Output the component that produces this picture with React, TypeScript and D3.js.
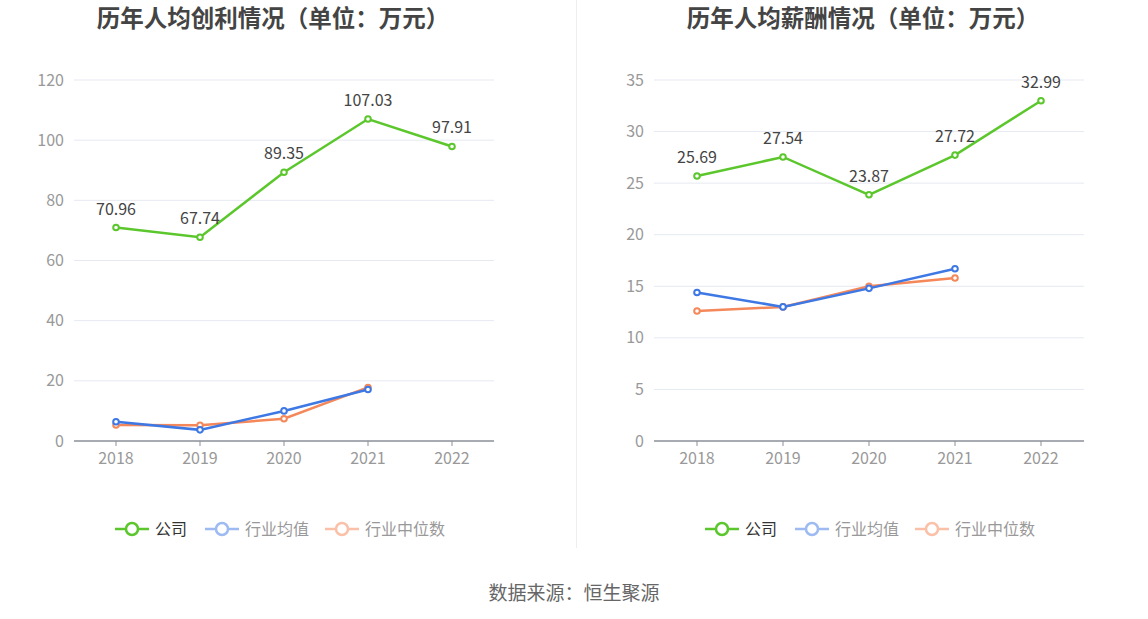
import React from "react";
import * as d3 from "d3";

const years = ["2018", "2019", "2020", "2021", "2022"];

const profitCompany = [70.96, 67.74, 89.35, 107.03, 97.91];
const profitIndustryAvg = [6.4, 3.7, 10.0, 17.1];
const profitIndustryMedian = [5.3, 5.2, 7.4, 17.8];
const profitTicks = [0, 20, 40, 60, 80, 100, 120];

const salaryCompany = [25.69, 27.54, 23.87, 27.72, 32.99];
const salaryIndustryAvg = [14.4, 13.0, 14.8, 16.7];
const salaryIndustryMedian = [12.6, 13.0, 15.0, 15.8];
const salaryTicks = [0, 5, 10, 15, 20, 25, 30, 35];

const seriesNames = ["公司", "行业均值", "行业中位数"];

const GREEN = "#5BC72C";
const BLUE = "#3E78E4";
const ORANGE = "#F5885A";
const BLUE_FADE = "#9DBAF2";
const ORANGE_FADE = "#FBC0A8";
const FONT = "'Noto Sans CJK SC', 'Noto Sans', sans-serif";

type PanelProps = {
  x0: number;
  x1: number;
  titleX: number;
  legendX: number;
  title: string;
  company: number[];
  avg: number[];
  median: number[];
  ticks: number[];
};

function Panel({ x0, x1, titleX, legendX, title, company, avg, median, ticks }: PanelProps) {
  const top = 80;
  const bottom = 441;
  const x = d3.scaleBand<string>().domain(years).range([x0, x1]);
  const y = d3
    .scaleLinear()
    .domain([0, ticks[ticks.length - 1]])
    .range([bottom, top]);
  const cx = (i: number) => (x(years[i]) as number) + x.bandwidth() / 2;
  const line = d3
    .line<number>()
    .x((_, i) => cx(i))
    .y((d) => y(d));
  const legendItems = [
    { name: seriesNames[0], color: GREEN, text: "#333", off: 0 },
    { name: seriesNames[1], color: BLUE_FADE, text: "#999", off: 90 },
    { name: seriesNames[2], color: ORANGE_FADE, text: "#999", off: 210 },
  ];
  const series = [
    { data: median, color: ORANGE },
    { data: avg, color: BLUE },
    { data: company, color: GREEN },
  ];
  return (
    <g>
      <text
        x={titleX}
        y={27}
        textAnchor="middle"
        fontSize={23.5}
        fontWeight="bold"
        fill="#444"
        fontFamily={FONT}
      >
        {title}
      </text>
      {ticks.map((t) => (
        <g key={t}>
          {t !== 0 && (
            <line x1={x0} x2={x1} y1={y(t)} y2={y(t)} stroke="#E6E9F2" strokeWidth={1} />
          )}
          <text
            x={x0 - 10}
            y={y(t)}
            dy="0.35em"
            textAnchor="end"
            fontSize={16}
            fill="#999"
            fontFamily={FONT}
          >
            {t}
          </text>
        </g>
      ))}
      <line x1={x0} x2={x1} y1={bottom} y2={bottom} stroke="#8C8F98" strokeWidth={1.5} />
      {years.map((yr, i) => (
        <g key={yr}>
          <line x1={cx(i)} x2={cx(i)} y1={bottom} y2={bottom + 5} stroke="#8C8F98" strokeWidth={1} />
          <text
            x={cx(i)}
            y={bottom + 23}
            textAnchor="middle"
            fontSize={16}
            fill="#999"
            fontFamily={FONT}
          >
            {yr}
          </text>
        </g>
      ))}
      {series.map((s, si) => (
        <g key={si}>
          <path d={line(s.data) || ""} fill="none" stroke={s.color} strokeWidth={2.5} />
          {s.data.map((d, i) => (
            <circle key={i} cx={cx(i)} cy={y(d)} r={2.8} fill="#fff" stroke={s.color} strokeWidth={2} />
          ))}
        </g>
      ))}
      {company.map((d, i) => (
        <text
          key={i}
          x={cx(i)}
          y={y(d) - 13}
          textAnchor="middle"
          fontSize={16}
          fill="#444"
          fontFamily={FONT}
        >
          {d.toFixed(2)}
        </text>
      ))}
      {legendItems.map((it) => {
        const lx = legendX + it.off;
        return (
          <g key={it.name}>
            <line x1={lx} x2={lx + 34} y1={529} y2={529} stroke={it.color} strokeWidth={2.5} />
            <circle cx={lx + 17} cy={529} r={6} fill="#fff" stroke={it.color} strokeWidth={2.5} />
            <text
              x={lx + 40}
              y={529}
              dy="0.35em"
              fontSize={16}
              fill={it.text}
              fontFamily={FONT}
            >
              {it.name}
            </text>
          </g>
        );
      })}
    </g>
  );
}

export default function App() {
  return (
    <svg
      width={1148}
      height={619}
      style={{ position: "absolute", left: 0, top: 0, background: "#fff" }}
    >
      <rect width={1148} height={619} fill="#fff" />
      <line x1={576.5} x2={576.5} y1={0} y2={548} stroke="#EEEEEE" strokeWidth={1} />
      <Panel
        x0={74}
        x1={494}
        titleX={273}
        legendX={115}
        title="历年人均创利情况（单位：万元）"
        company={profitCompany}
        avg={profitIndustryAvg}
        median={profitIndustryMedian}
        ticks={profitTicks}
      />
      <Panel
        x0={654}
        x1={1084}
        titleX={863}
        legendX={705}
        title="历年人均薪酬情况（单位：万元）"
        company={salaryCompany}
        avg={salaryIndustryAvg}
        median={salaryIndustryMedian}
        ticks={salaryTicks}
      />
      <text
        x={574}
        y={600}
        textAnchor="middle"
        fontSize={19}
        fill="#666"
        fontFamily={FONT}
      >
        数据来源：恒生聚源
      </text>
    </svg>
  );
}
